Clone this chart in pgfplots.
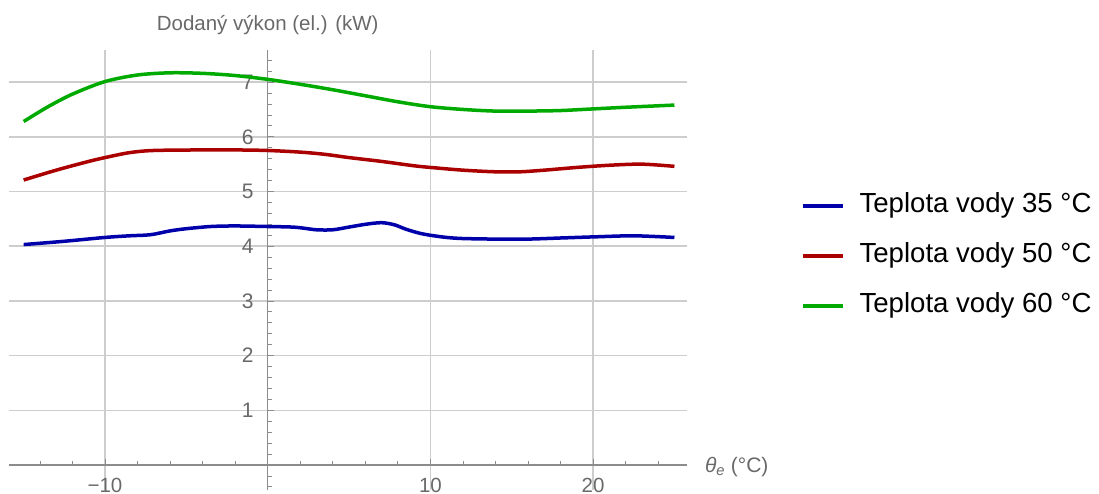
\documentclass[border=0pt]{standalone}
\usepackage{pgfplots}
\pgfplotsset{compat=1.18}
\usepackage{fontspec}
\setmainfont{Liberation Sans}
\definecolor{axgray}{RGB}{105,105,105}
\definecolor{gridgray}{RGB}{205,205,205}
\definecolor{lineaxis}{RGB}{140,140,140}
\definecolor{cblue}{RGB}{0,0,170}
\definecolor{cred}{RGB}{170,0,0}
\definecolor{cgreen}{RGB}{0,170,0}
\begin{document}
\begin{tikzpicture}
\begin{axis}[
  anchor=origin,
  x=16.27pt, y=54.7pt,
  xmin=-15.88, xmax=25.76, ymin=-0.45, ymax=7.587,
  axis lines=middle,
  axis line style={-, color=lineaxis, line width=1.3pt},
  xtick={-10,10,20}, xticklabels={−10,10,20},
  ytick={1,2,3,4,5,6,7}, yticklabels={1,2,3,4,5,6,7},
  minor xtick={-14,-12,...,24},
  minor ytick={-0.4,-0.2,...,7.4},
  tick align=center,
  major tick length=6pt, minor tick length=4pt,
  tick style={color=lineaxis, line width=0.8pt},
  minor x tick style={yshift=2pt},
  minor y tick style={xshift=2pt},
  major x tick style={yshift=3pt},
  major y tick style={xshift=3pt},
  grid=major,
  major grid style={color=gridgray, line width=1.5pt, xshift=0pt, yshift=0pt},
  xticklabel style={font=\fontsize{20.5}{20.5}\selectfont, text=axgray, inner sep=0pt, anchor=north, yshift=-10pt},
  yticklabel style={font=\fontsize{21}{21}\selectfont, text=axgray, inner sep=0pt, anchor=east, xshift=-11pt},
  xlabel={\itshape θ\textsubscript{e}\upshape\ (°C)},
  ylabel={Dodaný výkon (el.) (kW)},
  every axis x label/.style={at={(axis cs:25.76,0)}, anchor=base west, xshift=18pt, yshift=-7pt, font=\fontsize{21}{21}\selectfont, text=axgray, inner sep=0pt},
  every axis y label/.style={at={(axis cs:0,7.587)}, anchor=base, yshift=19.5pt, font=\fontsize{20.5}{20.5}\selectfont, text=axgray, inner sep=0pt},
  legend style={draw=none, fill=none, at={(axis cs:32.78,3.822)}, anchor=west, inner sep=0pt, outer sep=0pt,
    row sep=24pt, column sep=15pt, font=\fontsize{27.6}{27.6}\selectfont,
    nodes={inner sep=0pt, text height=20pt, text depth=6pt}},
  legend cell align=left,
  legend image code/.code={\draw[#1] (0pt,0pt) -- (40pt,0pt);},
  clip=false,
]
\addplot[cblue, line width=3.5pt, smooth] coordinates {
(-15,4.03) (-12.5,4.09) (-10,4.16) (-8.5,4.19) (-7.2,4.21) (-6,4.28) (-5,4.32)
(-3.5,4.36) (-2,4.37) (0,4.36) (1.5,4.35) (2.2,4.33) (3,4.30) (4,4.30) (5,4.35)
(6,4.40) (7,4.43) (7.8,4.39) (8.5,4.31) (9.3,4.24) (10,4.20) (11,4.16) (12,4.14)
(14,4.13) (16,4.13) (18,4.15) (20,4.17) (22.5,4.19) (25,4.16)};
\addlegendentry{Teplota vody 35 °C}
\addplot[cred, line width=3.5pt, smooth] coordinates {
(-15,5.21) (-13,5.39) (-11,5.55) (-10,5.62) (-8.5,5.71) (-7,5.75) (-4,5.76)
(-2,5.76) (0,5.75) (2,5.72) (3.5,5.68) (5,5.62) (7,5.55) (9,5.47) (10,5.44)
(12,5.39) (14,5.36) (15.5,5.36) (17,5.39) (19,5.44) (21,5.48) (23,5.50) (25,5.46)};
\addlegendentry{Teplota vody 50 °C}
\addplot[cgreen, line width=3.5pt, smooth] coordinates {
(-15,6.28) (-13.5,6.55) (-12,6.78) (-10,7.01) (-8,7.13) (-6,7.17) (-4,7.16)
(-2,7.12) (0,7.05) (2,6.96) (4,6.86) (6,6.75) (8,6.64) (10,6.55) (12,6.50)
(14,6.47) (16,6.47) (18,6.48) (20,6.51) (22,6.54) (25,6.58)};
\addlegendentry{Teplota vody 60 °C}
\end{axis}
\pgfresetboundingbox
\path[use as bounding box] (-267.7pt,-28pt) rectangle (831.3pt,465pt);
\end{tikzpicture}
\end{document}
